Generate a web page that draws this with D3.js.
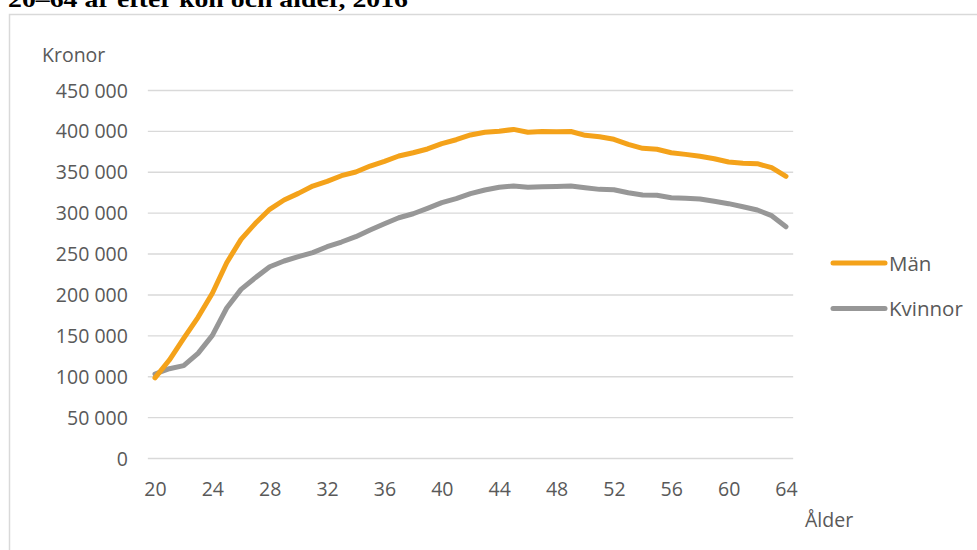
<!DOCTYPE html>
<html lang="sv">
<meta charset="utf-8">

<!-- Load d3.js -->
<script src="https://d3js.org/d3.v7.min.js"></script>

<style>
  body { margin: 0; background: #fff; }
  text { font-family: "Open Sans", sans-serif; }
</style>

<!-- Create a div where the graph will take place -->
<div id="my_dataviz"></div>

<script>

    // data
    var ages = d3.range(20, 65);
    var tickAges = [20, 24, 28, 32, 36, 40, 44, 48, 52, 56, 60, 64];
    var yTicks = [0, 50000, 100000, 150000, 200000, 250000, 300000, 350000, 400000, 450000];

    var man = [98000, 119800, 146400, 172000, 201400, 238800, 267400, 287000, 304100, 315500,
               323600, 332600, 338300, 345200, 349700, 357000, 362800, 369300, 373300, 377900,
               384400, 389200, 395000, 398300, 399600, 401800, 398300, 399300, 399000, 399300,
               394600, 392900, 389700, 383600, 378700, 377500, 373300, 371300, 368900, 366000,
               361900, 360300, 359900, 355000, 344500];
    var kvinnor = [102700, 109200, 112900, 128000, 150000, 183400, 206200, 220500, 233900, 240900,
                   246200, 251100, 258400, 264100, 270600, 278800, 286500, 293800, 298700, 305300,
                   312200, 317100, 323200, 327700, 331000, 332600, 331000, 331700, 332100, 332600,
                   330500, 328500, 328100, 324400, 321600, 321200, 318300, 317500, 316700, 313900,
                   311000, 307300, 303300, 296300, 282800];

    var seriesNames = ["Män", "Kvinnor"];
    var seriesValues = [man, kvinnor];
    var seriesColors = ["#F4A21A", "#979797"];

    var W = 977, H = 550;

    var svg = d3.select("#my_dataviz")
      .append("svg")
        .attr("width", W)
        .attr("height", H);

    // chart frame
    svg.append("rect")
      .attr("x", 9.5)
      .attr("y", 14.5)
      .attr("width", W + 10)
      .attr("height", H + 10)
      .style("fill", "none")
      .style("stroke", "#d9d9d9")
      .style("stroke-width", 1.5);

    // title (cut off at the top, as in the original)
    svg.append("text")
      .attr("x", 8)
      .attr("y", 7)
      .attr("textLength", 400)
      .attr("lengthAdjust", "spacingAndGlyphs")
      .style("font-family", "'Liberation Serif', 'DejaVu Serif', serif")
      .style("font-weight", "bold")
      .style("font-size", "23px")
      .style("fill", "#000")
      .text("20–64 år efter kön och ålder, 2016");

    // scales
    var x = d3.scalePoint()
      .domain(ages)
      .range([155, 786]);

    var y = d3.scaleLinear()
      .domain([0, 450000])
      .range([458, 90]);

    var step = x.step();
    var fmt = function(v) { return d3.format(",")(v).replace(/,/g, " "); };

    // Y axis with gridlines
    var yAxis = svg.append("g")
      .attr("transform", "translate(" + (x(20) - step / 2) + ",0)")
      .call(d3.axisLeft(y)
        .tickValues(yTicks)
        .tickSize(-(x(64) - x(20) + step))
        .tickPadding(20)
        .tickFormat(fmt));
    yAxis.select(".domain").remove();
    yAxis.selectAll(".tick line")
      .style("stroke", "#d9d9d9")
      .style("stroke-width", 1.4);
    yAxis.selectAll(".tick text")
      .style("font-size", "19.5px")
      .style("fill", "#595959")
      .attr("dy", "0.36em");

    // X axis
    var xAxis = svg.append("g")
      .attr("transform", "translate(0," + y(0) + ")")
      .call(d3.axisBottom(x)
        .tickValues(tickAges)
        .tickSize(0)
        .tickPadding(0));
    xAxis.select(".domain").remove();
    xAxis.selectAll(".tick text")
      .attr("y", 38)
      .attr("dy", 0)
      .style("font-size", "19.5px")
      .style("fill", "#595959");

    // axis titles
    svg.append("text")
      .attr("x", 42)
      .attr("y", 62)
      .style("font-size", "19.5px")
      .style("fill", "#595959")
      .text("Kronor");

    svg.append("text")
      .attr("x", 805)
      .attr("y", 527)
      .style("font-size", "19.5px")
      .style("fill", "#595959")
      .text("Ålder");

    // lines
    var line = d3.line()
      .x(function(d, i) { return x(ages[i]); })
      .y(function(d) { return y(d); });

    // draw gray first so orange sits on top like the original
    [1, 0].forEach(function(s) {
      svg.append("path")
        .datum(seriesValues[s])
        .attr("d", line)
        .style("fill", "none")
        .style("stroke", seriesColors[s])
        .style("stroke-width", 5)
        .style("stroke-linejoin", "round")
        .style("stroke-linecap", "round");
    });

    // legend
    var legend = svg.selectAll(".legend")
      .data(seriesNames)
      .enter()
      .append("g")
        .attr("class", "legend")
        .attr("transform", function(d, i) { return "translate(0," + (263 + i * 45.5) + ")"; });

    legend.append("line")
      .attr("x1", 833)
      .attr("x2", 885)
      .style("stroke", function(d, i) { return seriesColors[i]; })
      .style("stroke-width", 5)
      .style("stroke-linecap", "round");

    legend.append("text")
      .attr("x", 889)
      .attr("y", 7.5)
      .style("font-size", "20.5px")
      .style("fill", "#595959")
      .text(function(d) { return d; });

</script>
</html>
